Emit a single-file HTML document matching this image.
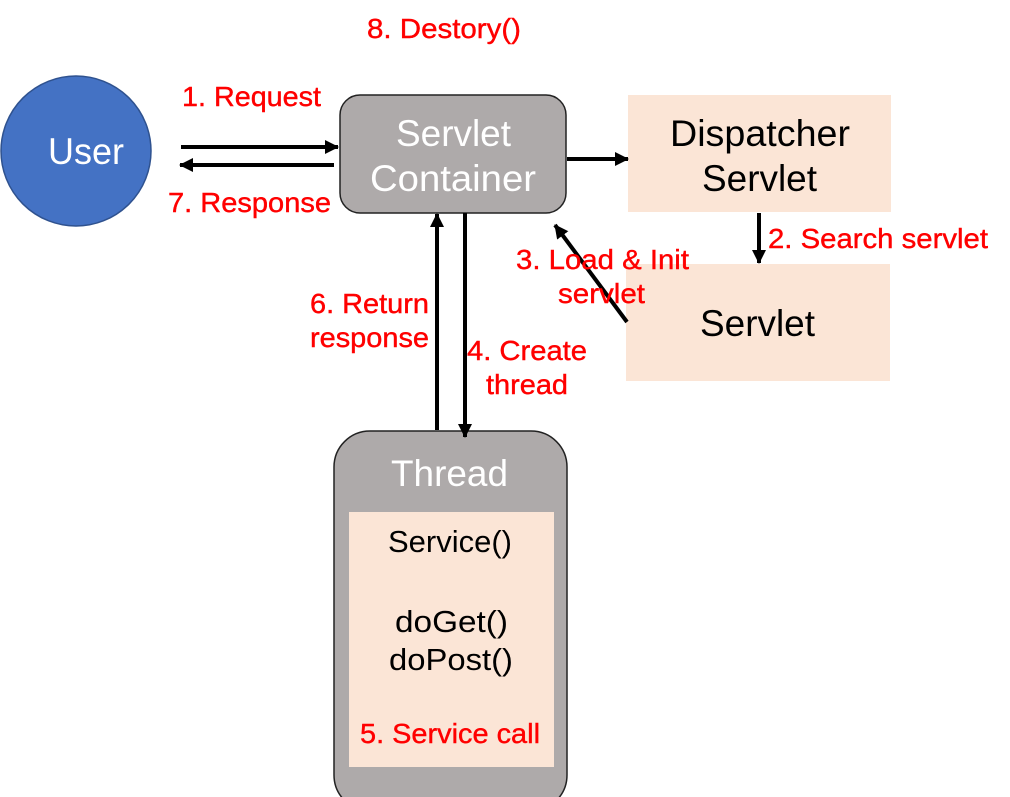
<!DOCTYPE html>
<html><head><style>html,body{margin:0;padding:0;background:#fff}svg{display:block}text{}</style></head><body>
<svg width="1010" height="797" viewBox="0 0 1010 797" xmlns="http://www.w3.org/2000/svg">
<defs><marker id="b" markerWidth="14" markerHeight="14" refX="13" refY="7" orient="auto" markerUnits="userSpaceOnUse"><path d="M0,0 L14,7 L0,14 z" fill="#000"/></marker></defs>
<g font-family="Liberation Sans, DejaVu Sans, sans-serif">
<circle cx="76" cy="151" r="75" fill="#4472C4" stroke="#2F528F" stroke-width="1.5"/>
<text x="48" y="164" font-size="37" fill="#fff" textLength="76" lengthAdjust="spacingAndGlyphs">User</text>
<rect x="340" y="95" width="226" height="118" rx="20" fill="#AEAAAA" stroke="#222" stroke-width="1.5"/>
<text x="396" y="146" font-size="37" fill="#fff" textLength="115" lengthAdjust="spacingAndGlyphs">Servlet</text>
<text x="370" y="191" font-size="37" fill="#fff" textLength="166" lengthAdjust="spacingAndGlyphs">Container</text>
<rect x="628" y="95" width="263" height="117" fill="#FBE5D6"/>
<text x="670" y="146" font-size="37" fill="#000" textLength="180" lengthAdjust="spacingAndGlyphs">Dispatcher</text>
<text x="702" y="191" font-size="37" fill="#000" textLength="115" lengthAdjust="spacingAndGlyphs">Servlet</text>
<rect x="626" y="264" width="264" height="117" fill="#FBE5D6"/>
<text x="700" y="336" font-size="37" fill="#000" textLength="115" lengthAdjust="spacingAndGlyphs">Servlet</text>
<rect x="334" y="431" width="233" height="380" rx="36" fill="#AEAAAA" stroke="#222" stroke-width="1.5"/>
<text x="391" y="486" font-size="37" fill="#fff" textLength="117" lengthAdjust="spacingAndGlyphs">Thread</text>
<rect x="349" y="512" width="205" height="255" fill="#FBE5D6"/>
<g font-size="31" fill="#000"><text x="388" y="552" textLength="124" lengthAdjust="spacingAndGlyphs">Service()</text><text x="395" y="632" textLength="113" lengthAdjust="spacingAndGlyphs">doGet()</text><text x="389" y="670" textLength="124" lengthAdjust="spacingAndGlyphs">doPost()</text></g>
<g stroke="#000" stroke-width="4" fill="none">
<line x1="181" y1="147" x2="338" y2="147" marker-end="url(#b)"/>
<line x1="334" y1="165" x2="180" y2="165" marker-end="url(#b)"/>
<line x1="567" y1="159" x2="628" y2="159" marker-end="url(#b)"/>
<line x1="437" y1="430" x2="437" y2="214" marker-end="url(#b)"/>
<line x1="465" y1="213" x2="465" y2="437" marker-end="url(#b)"/>
<line x1="759" y1="213" x2="759" y2="263" marker-end="url(#b)"/>
<line x1="627" y1="322" x2="555" y2="225" marker-end="url(#b)"/>
</g>
<g font-size="28" fill="#f00" stroke="#f00" stroke-width="0.4">
<text x="360" y="743" textLength="180" lengthAdjust="spacingAndGlyphs">5. Service call</text>
<text x="367" y="38" textLength="154" lengthAdjust="spacingAndGlyphs">8. Destory()</text>
<text x="182" y="106" textLength="139" lengthAdjust="spacingAndGlyphs">1. Request</text>
<text x="168" y="212" textLength="163" lengthAdjust="spacingAndGlyphs">7. Response</text>
<text x="768" y="248" textLength="220" lengthAdjust="spacingAndGlyphs">2. Search servlet</text>
<text x="516" y="269" textLength="173" lengthAdjust="spacingAndGlyphs">3. Load &amp; Init</text>
<text x="558" y="303" textLength="87" lengthAdjust="spacingAndGlyphs">servlet</text>
<text x="310" y="313" textLength="119" lengthAdjust="spacingAndGlyphs">6. Return</text>
<text x="310" y="347" textLength="119" lengthAdjust="spacingAndGlyphs">response</text>
<text x="467" y="360" textLength="120" lengthAdjust="spacingAndGlyphs">4. Create</text>
<text x="486" y="394" textLength="82" lengthAdjust="spacingAndGlyphs">thread</text>
</g>
</g>
</svg>
</body></html>
